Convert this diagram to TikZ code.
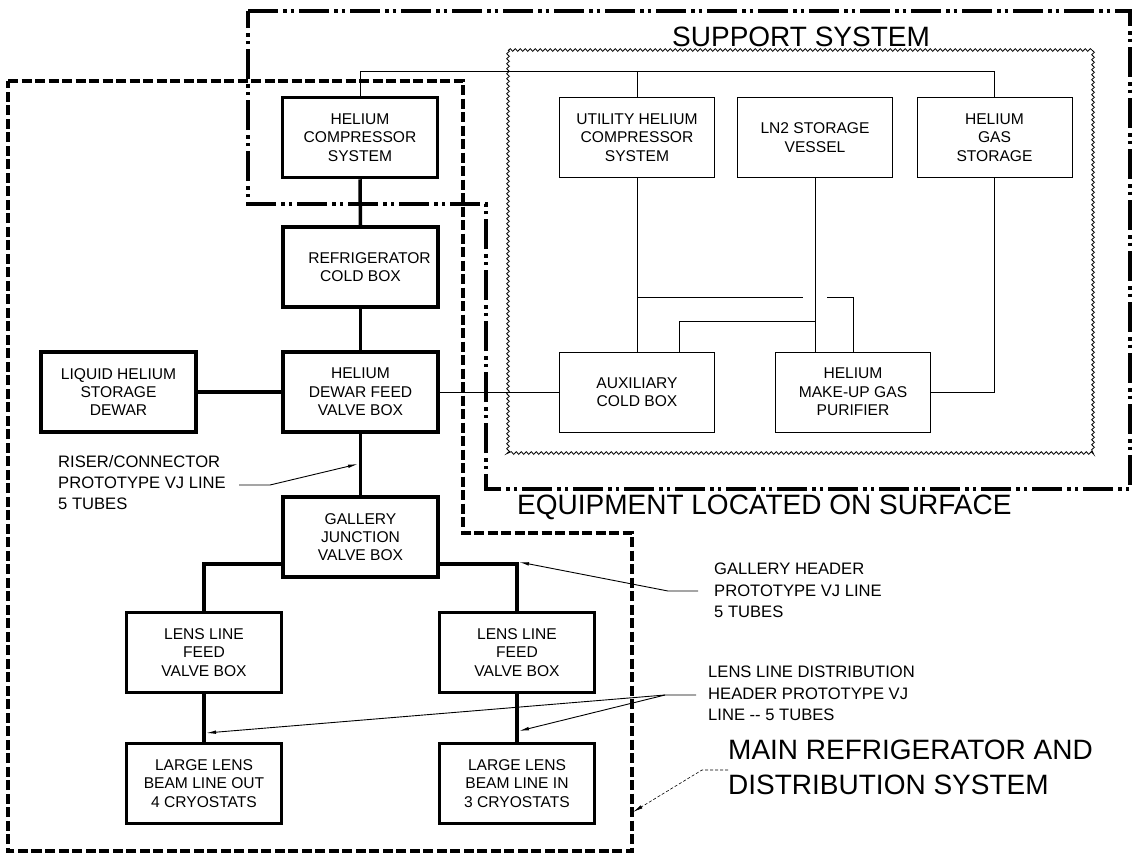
\documentclass[tikz,border=0pt]{standalone}
\usepackage{fontspec}
\setmainfont{Liberation Sans}
\usetikzlibrary{arrows.meta,decorations.pathmorphing,calc}
\newcommand\bxfont{\fontsize{15.6}{18.3}\selectfont}
\newcommand\ntfont{\fontsize{16.6}{21.3}\selectfont}
\newcommand\ttlfont{\fontsize{28}{35}\selectfont}
\begin{document}
\begin{tikzpicture}[x=1pt,y=-1pt,
  heavybox/.style={draw,line width=3.5pt,minimum width=155pt,minimum height=80pt,inner sep=0pt,align=center,font=\bxfont},
  lightbox/.style={draw,line width=1pt,minimum width=155pt,minimum height=80pt,inner sep=0pt,align=center,font=\bxfont},
  heavyline/.style={line width=3.5pt},
  lightline/.style={line width=0.9pt},
  note/.style={anchor=north west,inner sep=0pt,align=left,font=\ntfont},
  ttl/.style={anchor=north west,inner sep=0pt,align=left,font=\ttlfont},
  ptr/.style={line width=0.9pt,-{Latex[length=10pt,width=3.5pt]}},
  mainbound/.style={line width=3.5pt,dash pattern=on 10pt off 3.5pt},
  surfbound/.style={line width=3.5pt,dash pattern=on 30pt off 5pt on 3.5pt off 4pt on 3.5pt off 5pt},
  zig/.style={line width=0.8pt,decorate,decoration={zigzag,segment length=5pt,amplitude=1.4pt}}
]
\useasboundingbox (0,0) rectangle (1133,855);

% boundaries
\draw[mainbound] (8,81) -- (463,81) -- (463,533) -- (632,533) -- (632,851) -- (8,851) -- cycle;
\draw[surfbound] (248,11) -- (1130,11) -- (1130,489) -- (486,489) -- (486,204) -- (248,204) -- cycle;
\draw[zig] (508,50) rectangle (1093,453);

% main system boxes
\node[heavybox] (hcs) at (360,137.5) {HELIUM\\COMPRESSOR\\SYSTEM};
\node[heavybox] (rcb) at (360.5,267) {\hspace*{18pt}REFRIGERATOR\\COLD BOX};
\node[heavybox] (dfv) at (360.5,392) {HELIUM\\DEWAR FEED\\VALVE BOX};
\node[heavybox] (ldw) at (118.5,392) {LIQUID HELIUM\\STORAGE\\DEWAR};
\node[heavybox] (gjv) at (360.5,537) {GALLERY\\JUNCTION\\VALVE BOX};
\node[heavybox] (llf1) at (204,652.5) {LENS LINE\\FEED\\VALVE BOX};
\node[heavybox] (llf2) at (517,652.5) {LENS LINE\\FEED\\VALVE BOX};
\node[heavybox] (llo) at (204,783.5) {LARGE LENS\\BEAM LINE OUT\\4 CRYOSTATS};
\node[heavybox] (lli) at (517,783.5) {LARGE LENS\\BEAM LINE IN\\3 CRYOSTATS};

% support system boxes
\node[lightbox] (uhc) at (637,137.5) {UTILITY HELIUM\\COMPRESSOR\\SYSTEM};
\node[lightbox] (ln2) at (815,137.5) {LN2 STORAGE\\VESSEL};
\node[lightbox] (hgs) at (994.5,137.5) {HELIUM\\GAS\\STORAGE};
\node[lightbox] (acb) at (637,392) {AUXILIARY\\COLD BOX};
\node[lightbox] (hmp) at (853,392) {HELIUM\\MAKE-UP GAS\\PURIFIER};

% heavy connectors
\draw[heavyline] (hcs.south) -- (rcb.north);
\draw[heavyline] (rcb.south) -- (dfv.north);
\draw[heavyline] (dfv.south) -- (gjv.north);
\draw[heavyline] (ldw.east) -- (dfv.west);
\draw[heavyline] ($(gjv.south west)+(0,-15)$) -| (llf1.north);
\draw[heavyline] ($(gjv.south east)+(0,-15)$) -| (llf2.north);
\draw[heavyline] (llf1.south) -- (llo.north);
\draw[heavyline] (llf2.south) -- (lli.north);

% light connectors
\coordinate (topbus) at (0,71);
\coordinate (gapL) at (803,297);
\coordinate (gapR) at (827,297);
\coordinate (lnk) at (815,321);
\coordinate (auxtap) at (679,352);
\draw[lightline] (hcs.north) -- (hcs.north |- topbus) -| (hgs.north);
\draw[lightline] (uhc.north) -- (uhc.north |- topbus);
\draw[lightline] (uhc.south) -- (acb.north);
\draw[lightline] (uhc.south |- gapL) -- (gapL);
\draw[lightline] (gapR) -| (hmp.north);
\draw[lightline] (ln2.south) -- (ln2.south |- hmp.north);
\draw[lightline] (lnk) -| (auxtap);
\draw[lightline] (hgs.south) |- (hmp.east);
\draw[lightline] (dfv.east) -- (acb.west);

% annotations
\coordinate (riserA) at (239,485);
\coordinate (riserB) at (270,485);
\coordinate (riserT) at (358,464);
\draw[ptr] (riserA) -- (riserB) -- (riserT);
\node[note] (riser) at (58,455) {RISER/CONNECTOR\\PROTOTYPE VJ LINE\\5 TUBES};

\coordinate (galA) at (698,591);
\coordinate (galB) at (668,591);
\coordinate (galT) at (519,562);
\draw[ptr] (galA) -- (galB) -- (galT);
\node[note] (galnote) at (714,563) {GALLERY HEADER\\PROTOTYPE VJ LINE\\5 TUBES};

\coordinate (lensA) at (696,695);
\coordinate (lensB) at (665,695);
\coordinate (lensT1) at (206,733);
\coordinate (lensT2) at (519,731);
\draw[ptr] (lensA) -- (lensB) -- (lensT1);
\draw[ptr] (lensB) -- (lensT2);
\node[note] (lensnote) at (708,666) {LENS LINE DISTRIBUTION\\HEADER PROTOTYPE VJ\\LINE -{}- 5 TUBES};

\coordinate (mainA) at (728,770);
\coordinate (mainB) at (702,770);
\coordinate (mainT) at (633,812);
\draw[ptr,line width=0.6pt,dash pattern=on 3pt off 2pt] (mainA) -- (mainB) -- (mainT);

% titles
\node[ttl] (support) at (672,27) {SUPPORT SYSTEM};
\node[ttl] (surface) at (517,495) {EQUIPMENT LOCATED ON SURFACE};
\node[ttl] (maintitle) at (728,740) {MAIN REFRIGERATOR AND\\DISTRIBUTION SYSTEM};
\end{tikzpicture}
\end{document}
